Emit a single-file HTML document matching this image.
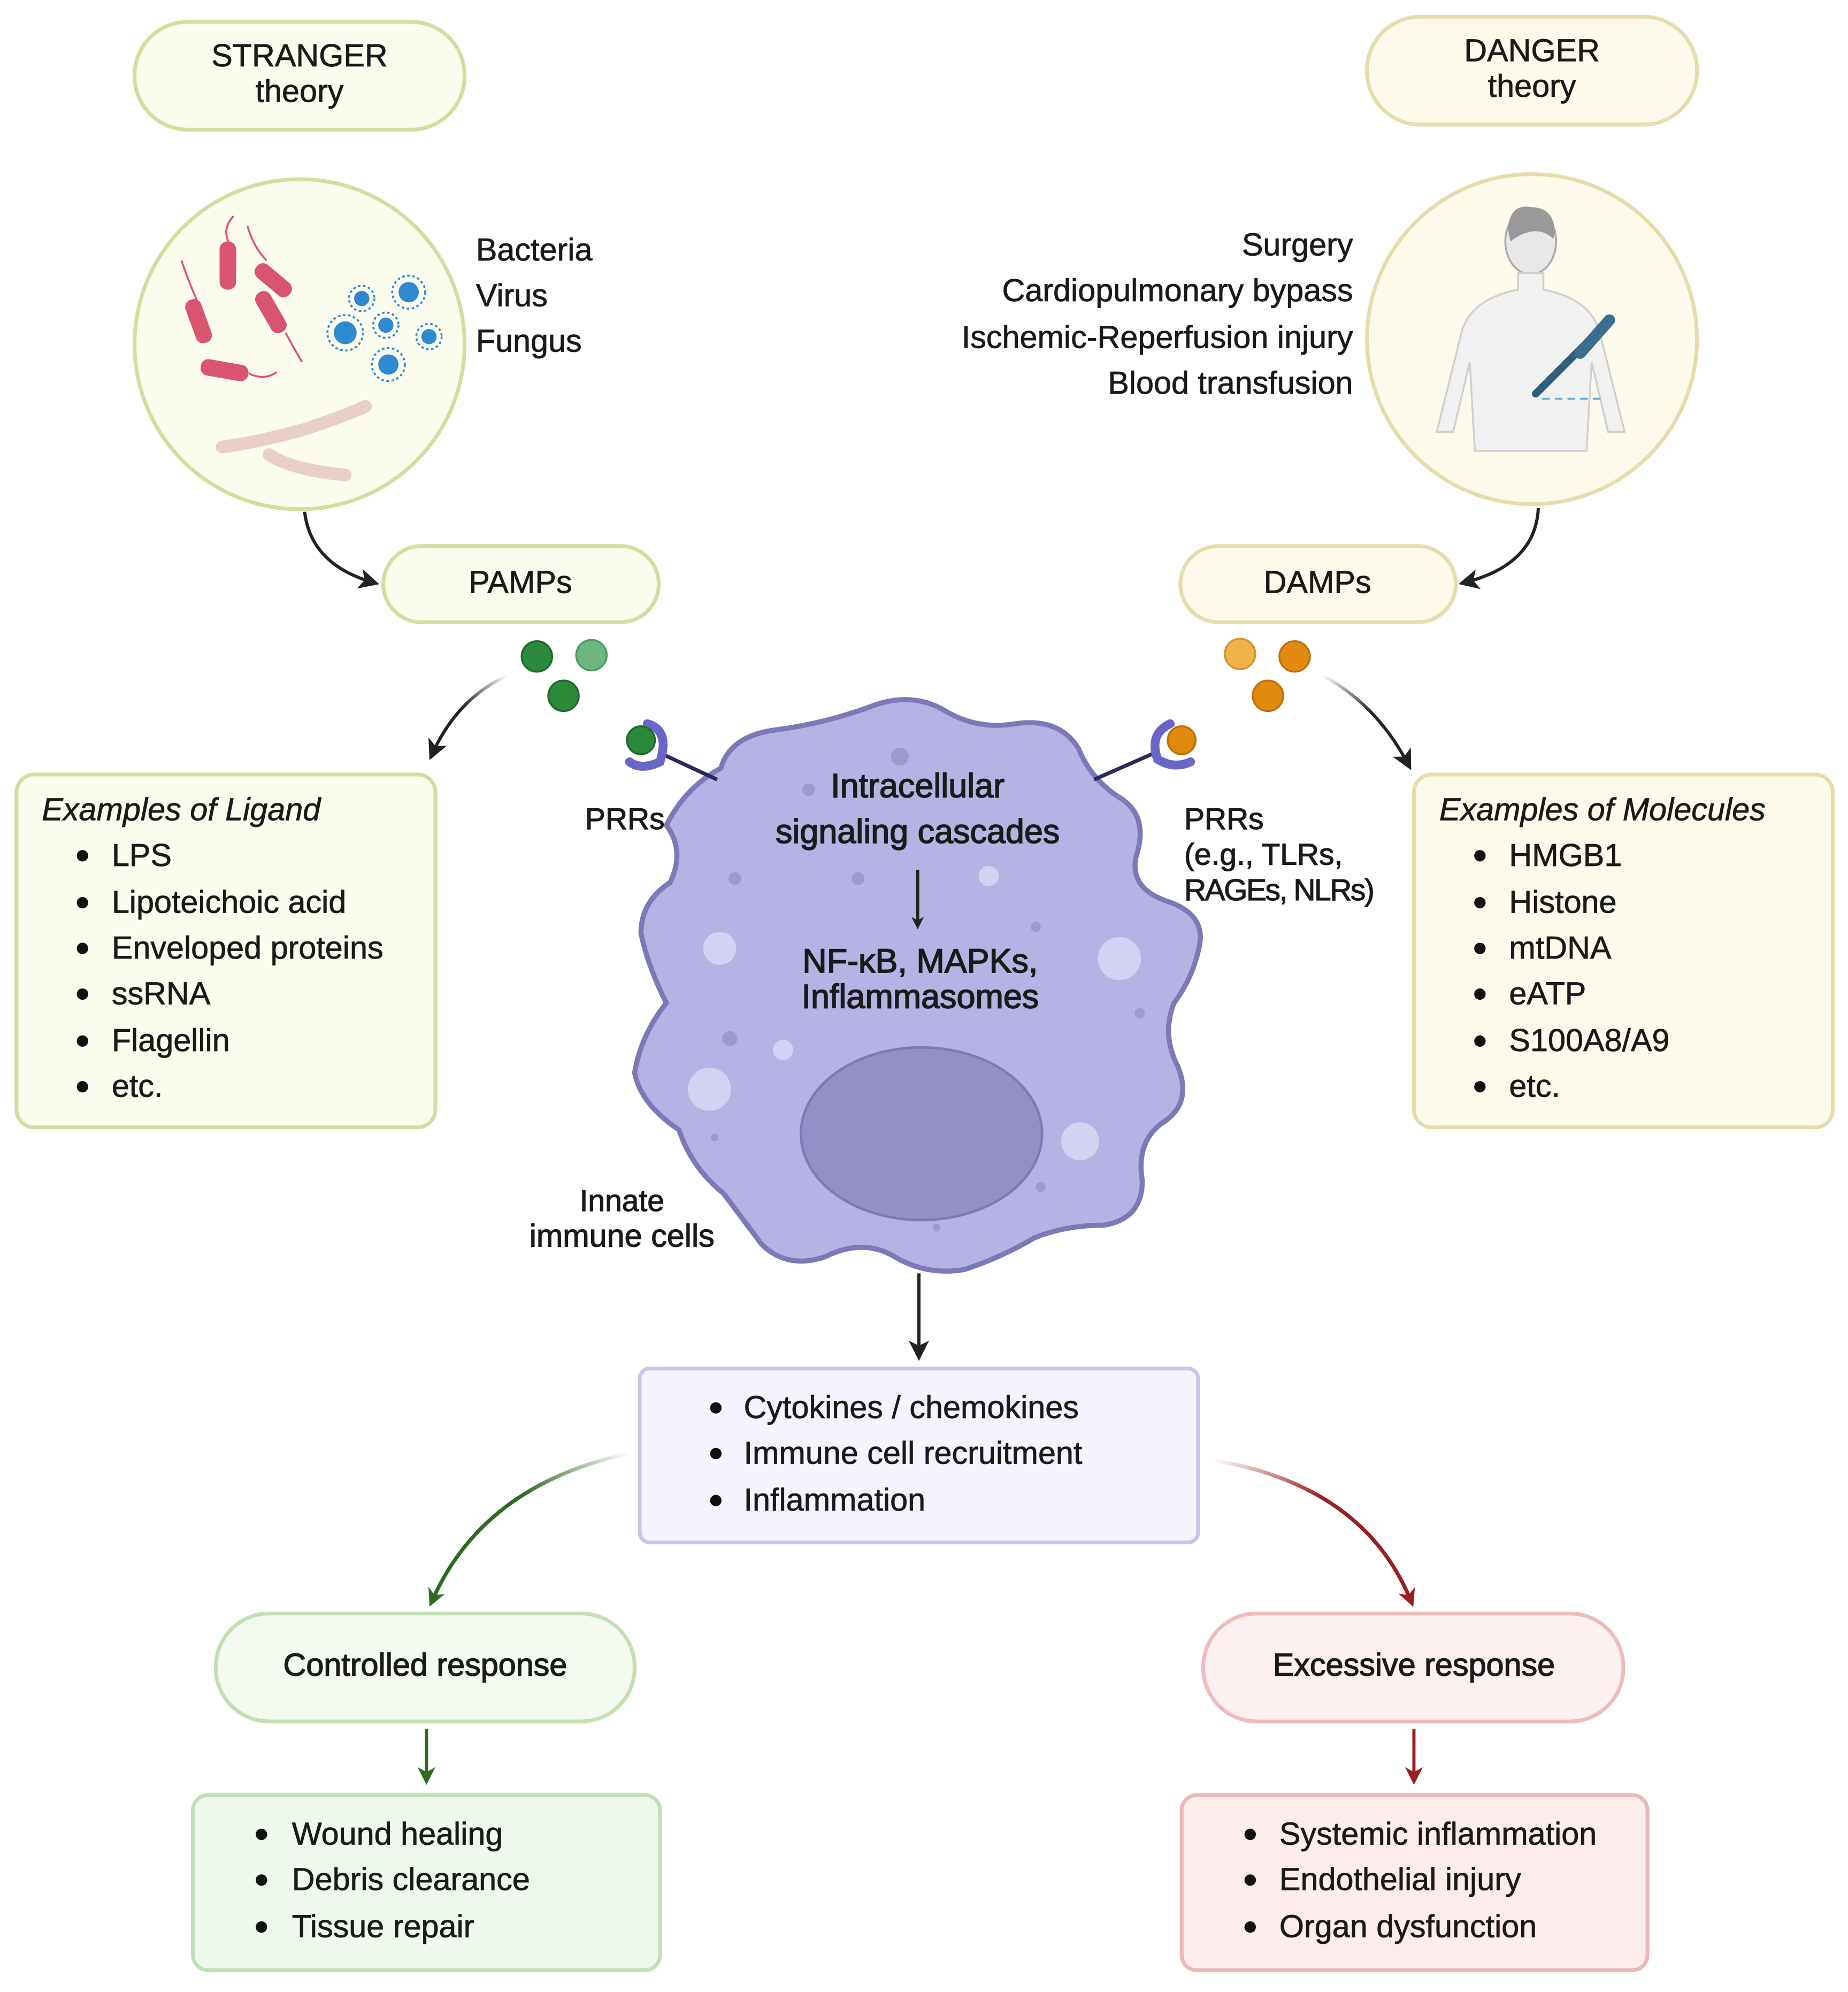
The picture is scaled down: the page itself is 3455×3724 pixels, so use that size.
<!DOCTYPE html>
<html><head><meta charset="utf-8"><style>
html,body{margin:0;padding:0;background:#fff}
svg{display:block}
text{font-family:"Liberation Sans",sans-serif;fill:#1a1a1a}
.m{stroke:#1a1a1a;stroke-width:0.35}
</style></head><body>
<svg width="3455" height="3724" viewBox="0 0 1456 1569" xmlns="http://www.w3.org/2000/svg">
<defs>
<marker id="ah" markerWidth="10" markerHeight="10" refX="7" refY="5" orient="auto" markerUnits="userSpaceOnUse"><path d="M0,0 L10,5 L0,10 L3,5 z" fill="#222"/></marker>
<marker id="ag" markerWidth="14" markerHeight="14" refX="10" refY="7" orient="auto" markerUnits="userSpaceOnUse"><path d="M0,0 L14,7 L0,14 L4,7 z" fill="#2f6b1f"/></marker>
<marker id="ar" markerWidth="14" markerHeight="14" refX="10" refY="7" orient="auto" markerUnits="userSpaceOnUse"><path d="M0,0 L14,7 L0,14 L4,7 z" fill="#9a2020"/></marker>
<marker id="ak" markerWidth="16" markerHeight="16" refX="12" refY="8" orient="auto" markerUnits="userSpaceOnUse"><path d="M0,0 L16,8 L0,16 L4,8 z" fill="#222"/></marker>
<linearGradient id="gg" x1="1" y1="0" x2="0" y2="1"><stop offset="0" stop-color="#2f6b1f" stop-opacity="0"/><stop offset="0.4" stop-color="#2f6b1f"/></linearGradient>
<linearGradient id="rg" x1="0" y1="0" x2="1" y2="1"><stop offset="0" stop-color="#9a2020" stop-opacity="0"/><stop offset="0.4" stop-color="#9a2020"/></linearGradient>
<linearGradient id="kg1" x1="1" y1="0" x2="0" y2="1"><stop offset="0" stop-color="#222" stop-opacity="0"/><stop offset="0.5" stop-color="#222"/></linearGradient>
<linearGradient id="kg2" x1="0" y1="0" x2="1" y2="1"><stop offset="0" stop-color="#222" stop-opacity="0"/><stop offset="0.5" stop-color="#222"/></linearGradient>
</defs>

<rect x="106" y="17" width="260" height="85" rx="42" fill="#fbfcee" stroke="#d3dd9e" stroke-width="3"/>
<text x="236" y="52" font-size="25" text-anchor="middle" class="m">STRANGER</text>
<text x="236" y="80" font-size="25" text-anchor="middle" class="m">theory</text>
<rect x="1077" y="13" width="260" height="85" rx="42" fill="#fdfaec" stroke="#e6dcab" stroke-width="3"/>
<text x="1207" y="48" font-size="25" text-anchor="middle" class="m">DANGER</text>
<text x="1207" y="76" font-size="25" text-anchor="middle" class="m">theory</text>

<circle cx="236" cy="271" r="130" fill="#fbfcee" stroke="#d3dd9e" stroke-width="3"/>
<g fill="#d9556f">
<rect x="173" y="190" width="13" height="38" rx="6"/>
<rect x="209" y="204" width="13" height="34" rx="6" transform="rotate(-50 215 221)"/>
<rect x="150" y="235" width="13" height="36" rx="6" transform="rotate(-20 156 253)"/>
<rect x="207" y="228" width="13" height="36" rx="6" transform="rotate(-30 213 246)"/>
<rect x="158" y="285" width="38" height="13" rx="6" transform="rotate(10 177 291)"/>
</g>
<g fill="none" stroke="#d9556f" stroke-width="1.5">
<path d="M180 190 Q175 180 184 170"/><path d="M210 205 Q200 195 195 178"/><path d="M155 236 Q148 220 143 205"/><path d="M225 262 Q232 275 238 285"/><path d="M196 294 Q208 300 218 293"/>
</g>
<g fill="#2d8ad0">
<circle cx="322" cy="230" r="8"/><circle cx="285" cy="235" r="6"/><circle cx="272" cy="262" r="9"/><circle cx="304" cy="256" r="6"/><circle cx="338" cy="265" r="6"/><circle cx="306" cy="287" r="8"/>
</g>
<g fill="none" stroke="#2d8ad0" stroke-width="1.5" stroke-dasharray="2 2">
<circle cx="322" cy="230" r="13"/><circle cx="285" cy="235" r="10"/><circle cx="272" cy="262" r="14"/><circle cx="304" cy="256" r="10"/><circle cx="338" cy="265" r="10"/><circle cx="306" cy="287" r="13"/>
</g>
<path d="M175 352 Q205 348 240 338 Q270 328 288 320" stroke="#e8cfc8" stroke-width="10" fill="none" stroke-linecap="round"/>
<path d="M212 358 Q230 370 272 374" stroke="#e8cfc8" stroke-width="10" fill="none" stroke-linecap="round"/>
<g font-size="25" class="m">
<text x="375" y="205">Bacteria</text>
<text x="375" y="241">Virus</text>
<text x="375" y="277">Fungus</text>
</g>

<circle cx="1207" cy="267" r="130" fill="#fdfaec" stroke="#e6dcab" stroke-width="3"/>
<ellipse cx="1206" cy="190" rx="20" ry="26" fill="#e8e8e8" stroke="#aaa" stroke-width="1.5"/>
<path d="M1188 180 Q1190 160 1206 163 Q1224 163 1225 182 L1224 188 Q1210 175 1190 190 z" fill="#999"/>
<path d="M1196 215 L1196 228 Q1160 235 1152 260 L1132 340 L1145 340 L1158 285 L1162 355 L1250 355 L1254 285 L1267 340 L1280 340 L1260 260 Q1252 235 1216 228 L1216 215 z" fill="#f1f1f1" stroke="#cfcfcf" stroke-width="1.5"/>
<path d="M1265 255 L1210 310" stroke="#2c5e7e" stroke-width="6" stroke-linecap="round"/>
<path d="M1268 252 L1245 278" stroke="#3a6e90" stroke-width="9" stroke-linecap="round"/>
<path d="M1215 314 L1265 314" stroke="#5ab0e0" stroke-width="1.5" stroke-dasharray="6 4"/>
<g font-size="25" class="m" text-anchor="end">
<text x="1066" y="201">Surgery</text>
<text x="1066" y="237">Cardiopulmonary bypass</text>
<text x="1066" y="274">Ischemic-Reperfusion injury</text>
<text x="1066" y="310">Blood transfusion</text>
</g>

<path d="M240 403 Q245 445 295 459" fill="none" stroke="#222" stroke-width="2.5" marker-end="url(#ak)"/>
<path d="M1212 400 Q1210 445 1153 459" fill="none" stroke="#222" stroke-width="2.5" marker-end="url(#ak)"/>

<rect x="302" y="430" width="217" height="60" rx="30" fill="#fbfcee" stroke="#d3dd9e" stroke-width="3"/>
<text x="410" y="467" font-size="25" text-anchor="middle" class="m">PAMPs</text>
<rect x="930" y="430" width="217" height="60" rx="30" fill="#fdfaec" stroke="#e6dcab" stroke-width="3"/>
<text x="1038" y="467" font-size="25" text-anchor="middle" class="m">DAMPs</text>

<circle cx="423" cy="517" r="12" fill="#2a8a3a" stroke="#1e6a2b" stroke-width="1.5"/>
<circle cx="466" cy="516" r="12" fill="#6db67d" stroke="#4e9a5e" stroke-width="1.5"/>
<circle cx="444" cy="548" r="12" fill="#2a8a3a" stroke="#1e6a2b" stroke-width="1.5"/>
<circle cx="977" cy="515" r="12" fill="#f0b24a" stroke="#d49430" stroke-width="1.5"/>
<circle cx="1020" cy="517" r="12" fill="#e08a10" stroke="#c07008" stroke-width="1.5"/>
<circle cx="999" cy="548" r="12" fill="#e08a10" stroke="#c07008" stroke-width="1.5"/>

<path d="M400 532 Q360 550 340 595" fill="none" stroke="url(#kg1)" stroke-width="2.5" marker-end="url(#ak)"/>
<path d="M1042 532 Q1085 555 1110 603" fill="none" stroke="url(#kg2)" stroke-width="2.5" marker-end="url(#ak)"/>

<rect x="13" y="610" width="330" height="278" rx="14" fill="#fbfcee" stroke="#d3dd9e" stroke-width="3"/>
<text x="33" y="646" font-size="25" font-style="italic" class="m">Examples of Ligand</text>
<g font-size="25" class="m">
<text x="88" y="682">LPS</text><text x="88" y="719">Lipoteichoic acid</text><text x="88" y="755">Enveloped proteins</text><text x="88" y="791">ssRNA</text><text x="88" y="828">Flagellin</text><text x="88" y="864">etc.</text>
</g>
<g fill="#111"><circle cx="65" cy="674" r="4.5"/><circle cx="65" cy="711" r="4.5"/><circle cx="65" cy="747" r="4.5"/><circle cx="65" cy="783" r="4.5"/><circle cx="65" cy="820" r="4.5"/><circle cx="65" cy="856" r="4.5"/></g>

<rect x="1114" y="610" width="330" height="278" rx="14" fill="#fdfaec" stroke="#e6dcab" stroke-width="3"/>
<text x="1134" y="646" font-size="25" font-style="italic" class="m">Examples of Molecules</text>
<g font-size="25" class="m">
<text x="1189" y="682">HMGB1</text><text x="1189" y="719">Histone</text><text x="1189" y="755">mtDNA</text><text x="1189" y="791">eATP</text><text x="1189" y="828">S100A8/A9</text><text x="1189" y="864">etc.</text>
</g>
<g fill="#111"><circle cx="1166" cy="674" r="4.5"/><circle cx="1166" cy="711" r="4.5"/><circle cx="1166" cy="747" r="4.5"/><circle cx="1166" cy="783" r="4.5"/><circle cx="1166" cy="820" r="4.5"/><circle cx="1166" cy="856" r="4.5"/></g>

<path d="M568 605 Q575 580 610 575 Q650 570 690 555 Q720 545 745 560 Q770 575 800 570 Q835 565 850 590 Q860 615 885 630 Q905 645 895 675 Q890 700 920 710 Q950 720 945 745 Q940 770 925 790 Q915 815 928 840 Q940 870 915 885 Q895 900 900 930 Q900 960 870 965 Q840 965 815 975 Q790 990 760 1000 Q730 1005 705 990 Q680 975 650 990 Q620 1000 600 980 Q585 960 570 940 Q545 920 535 890 Q505 870 500 845 Q505 815 525 790 Q510 760 505 735 Q505 710 528 695 Q540 670 525 650 Q540 620 568 605 z" fill="#b4b3e3" stroke="#7d78b8" stroke-width="4"/>
<ellipse cx="726" cy="893" rx="95" ry="68" fill="#9490c6" stroke="#7e7ab4" stroke-width="2"/>
<g fill="#d3d2f0"><circle cx="567" cy="747" r="13"/><circle cx="559" cy="858" r="17"/><circle cx="617" cy="827" r="8"/><circle cx="779" cy="690" r="8"/><circle cx="882" cy="755" r="17"/><circle cx="851" cy="899" r="15"/></g>
<g fill="#9c9ad0"><circle cx="709" cy="596" r="7"/><circle cx="637" cy="622" r="5"/><circle cx="579" cy="692" r="5"/><circle cx="676" cy="692" r="5"/><circle cx="575" cy="818" r="6"/><circle cx="816" cy="730" r="4"/><circle cx="898" cy="798" r="4"/><circle cx="820" cy="935" r="4"/><circle cx="738" cy="967" r="3"/><circle cx="563" cy="896" r="3"/></g>
<g font-size="26.5" text-anchor="middle" style="stroke:#1a1a1a;stroke-width:0.7">
<text x="723" y="628">Intracellular</text>
<text x="723" y="664">signaling cascades</text>
<text x="725" y="766">NF-κB, MAPKs,</text>
<text x="725" y="794">Inflammasomes</text>
</g>
<line x1="723" y1="685" x2="723" y2="729" stroke="#222" stroke-width="2.5" marker-end="url(#ah)"/>

<line x1="522" y1="594" x2="565" y2="614" stroke="#2a2a5a" stroke-width="3"/>
<path d="M510 570 Q528 575 520 600 Q505 607 496 600" fill="none" stroke="#6a66c8" stroke-width="7" stroke-linecap="round"/>
<circle cx="505" cy="583" r="11" fill="#2a8a3a" stroke="#1e6a2b" stroke-width="1.5"/>
<line x1="862" y1="614" x2="912" y2="592" stroke="#2a2a5a" stroke-width="3"/>
<path d="M922 570 Q905 578 912 598 Q925 606 938 600" fill="none" stroke="#6a66c8" stroke-width="7" stroke-linecap="round"/>
<circle cx="931" cy="583" r="11" fill="#e08a10" stroke="#c07008" stroke-width="1.5"/>
<g font-size="24" style="stroke:#1a1a1a;stroke-width:0.5">
<text x="461" y="653">PRRs</text>
<text x="933" y="653">PRRs</text>
<text x="933" y="681">(e.g., TLRs,</text>
<text x="933" y="709" textLength="150">RAGEs, NLRs)</text>
<text x="490" y="954" text-anchor="middle">Innate</text>
<text x="490" y="982" text-anchor="middle" font-size="25">immune cells</text>
</g>

<line x1="724" y1="1003" x2="724" y2="1068" stroke="#222" stroke-width="2.5" marker-end="url(#ak)"/>

<rect x="504" y="1078" width="440" height="137" rx="8" fill="#f5f3fd" stroke="#c9c3ee" stroke-width="3"/>
<g font-size="25" class="m"><text x="586" y="1117">Cytokines / chemokines</text><text x="586" y="1153">Immune cell recruitment</text><text x="586" y="1190">Inflammation</text></g>
<g fill="#111"><circle cx="564" cy="1109" r="4.5"/><circle cx="564" cy="1145" r="4.5"/><circle cx="564" cy="1182" r="4.5"/></g>

<path d="M495 1145 Q380 1170 340 1262" fill="none" stroke="url(#gg)" stroke-width="3" marker-end="url(#ag)"/>
<path d="M955 1150 Q1075 1170 1112 1262" fill="none" stroke="url(#rg)" stroke-width="3" marker-end="url(#ar)"/>

<rect x="170" y="1271" width="330" height="85" rx="42" fill="#f4faf0" stroke="#c2e0b0" stroke-width="3"/>
<text x="335" y="1320" font-size="25" text-anchor="middle" style="stroke:#1a1a1a;stroke-width:0.6">Controlled response</text>
<rect x="948" y="1271" width="331" height="85" rx="42" fill="#fdf0f0" stroke="#eebcbc" stroke-width="3"/>
<text x="1114" y="1320" font-size="25" text-anchor="middle" style="stroke:#1a1a1a;stroke-width:0.6">Excessive response</text>

<line x1="336" y1="1362" x2="336" y2="1402" stroke="#2f6b1f" stroke-width="2.5" marker-end="url(#ag)"/>
<line x1="1114" y1="1362" x2="1114" y2="1402" stroke="#9a2020" stroke-width="2.5" marker-end="url(#ar)"/>

<rect x="152" y="1414" width="368" height="138" rx="12" fill="#eef8ec" stroke="#bfe0b5" stroke-width="3"/>
<g font-size="25" class="m"><text x="230" y="1453">Wound healing</text><text x="230" y="1489">Debris clearance</text><text x="230" y="1526">Tissue repair</text></g>
<g fill="#111"><circle cx="206" cy="1445" r="4.5"/><circle cx="206" cy="1481" r="4.5"/><circle cx="206" cy="1518" r="4.5"/></g>
<rect x="931" y="1414" width="367" height="138" rx="12" fill="#fcecec" stroke="#eab8b8" stroke-width="3"/>
<g font-size="25" class="m"><text x="1008" y="1453">Systemic inflammation</text><text x="1008" y="1489">Endothelial injury</text><text x="1008" y="1526">Organ dysfunction</text></g>
<g fill="#111"><circle cx="985" cy="1445" r="4.5"/><circle cx="985" cy="1481" r="4.5"/><circle cx="985" cy="1518" r="4.5"/></g>
</svg>
</body></html>
